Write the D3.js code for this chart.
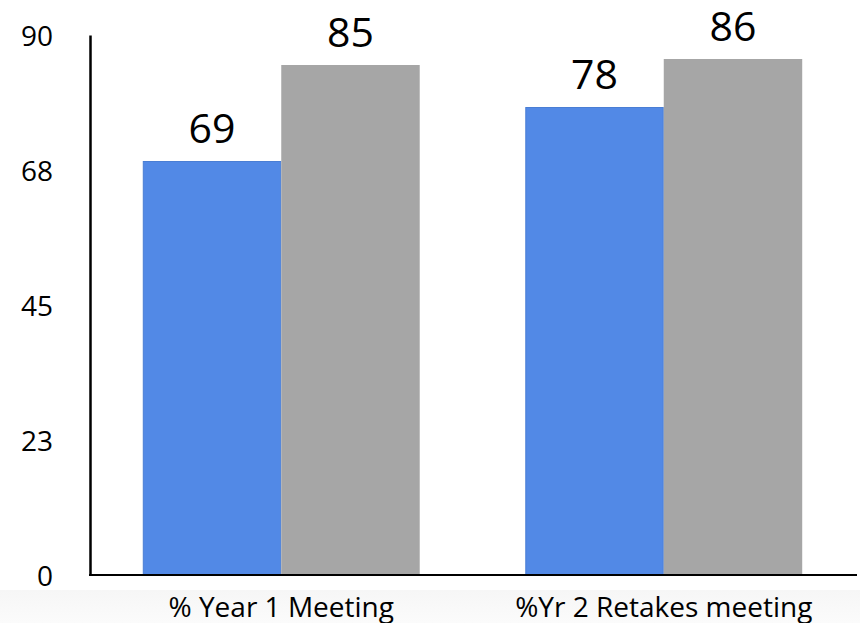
<!DOCTYPE html>
<html>
<head>
<meta charset="utf-8">
<script src="https://cdn.jsdelivr.net/npm/d3@7"></script>
<style>
  html, body { margin: 0; padding: 0; background: #ffffff; }
  svg { display: block; }
  text { font-family: "Open Sans", "Noto Sans", sans-serif; fill: #000; }
</style>
</head>
<body>
<svg id="chart" width="860" height="623"></svg>
<script>
// ---- data ----
const categories = ["% Year 1 Meeting", "%Yr 2 Retakes meeting"];
const seriesNames = ["Series A", "Series B"];
const seriesA = [69, 78];
const seriesB = [85, 86];
const tickValues = [0, 22.5, 45, 67.5, 90];
const tickLabels = ["0", "23", "45", "68", "90"];
const seriesColors = ["#5289e6", "#a6a6a6"];
const seriesStrokes = ["#4a7ed4", "#a6a6a6"];

// ---- layout ----
const W = 860, H = 623;
const margin = { left: 90, right: 5, top: 35, bottom: 48 };
const plotBottom = H - margin.bottom; // 575
const svg = d3.select("#chart");

// bottom faint band
const defs = svg.append("defs");
const grad = defs.append("linearGradient").attr("id", "band").attr("x1", 0).attr("y1", 0).attr("x2", 0).attr("y2", 1);
grad.append("stop").attr("offset", "0%").attr("stop-color", "#f6f6f6");
grad.append("stop").attr("offset", "100%").attr("stop-color", "#fbfbfb");
svg.append("rect").attr("x", 0).attr("y", 590).attr("width", W).attr("height", H - 590).attr("fill", "url(#band)");

const x0 = d3.scaleBand().domain(categories).range([margin.left, W - margin.right])
  .paddingInner(0.276).paddingOuter(0.138);
const x1 = d3.scaleBand().domain(seriesNames).range([0, x0.bandwidth()]).padding(0);
const y = d3.scaleLinear().domain([0, 90]).range([plotBottom, margin.top]);

const rows = categories.map((c, i) => ({ cat: c, vals: [seriesA[i], seriesB[i]] }));

const groups = svg.append("g").selectAll("g").data(rows).join("g")
  .attr("transform", d => `translate(${x0(d.cat)},0)`);

groups.selectAll("rect").data(d => d.vals.map((v, j) => ({ v, s: seriesNames[j], j })))
  .join("rect")
  .attr("x", d => x1(d.s) + (d.j === 0 ? 0.5 : 0))
  .attr("width", d => x1.bandwidth() - (d.j === 0 ? 1 : 0))
  .attr("y", d => y(d.v) + (d.j === 0 ? 0.5 : 0))
  .attr("height", d => plotBottom - y(d.v) - (d.j === 0 ? 0.5 : 0))
  .attr("fill", d => seriesColors[d.j])
  .attr("stroke", d => d.j === 0 ? seriesStrokes[0] : "none")
  .attr("stroke-width", 1);

groups.selectAll("text.val").data(d => d.vals.map((v, j) => ({ v, s: seriesNames[j] })))
  .join("text").attr("class", "val")
  .attr("x", d => x1(d.s) + x1.bandwidth() / 2)
  .attr("y", d => y(d.v) - 18)
  .attr("text-anchor", "middle")
  .style("font-size", "41px")
  .text(d => d.v);

// y axis
const yAxis = d3.axisLeft(y).tickValues(tickValues)
  .tickFormat((d, i) => tickLabels[i]).tickSize(0).tickPadding(37);
const gy = svg.append("g").attr("transform", `translate(${margin.left},0)`).call(yAxis);
gy.select(".domain").attr("stroke", "#000").attr("stroke-width", 2.5);
gy.selectAll(".tick text").style("font-size", "28px").style("font-family", "'Open Sans', sans-serif")
  .attr("fill", "#000").attr("dy", "0.36em");

// x axis
const xAxis = d3.axisBottom(x0).tickSize(0).tickSizeOuter(0).tickPadding(22);
const gx = svg.append("g").attr("transform", `translate(0,${plotBottom})`).call(xAxis);
gx.select(".domain").attr("d", `M${margin.left - 1},0H${W - 3}`).attr("stroke", "#000").attr("stroke-width", 2);
gx.selectAll(".tick text").style("font-size", "28px").style("font-family", "'Open Sans', sans-serif")
  .attr("fill", "#000").attr("dy", "0.71em");
</script>
</body>
</html>
